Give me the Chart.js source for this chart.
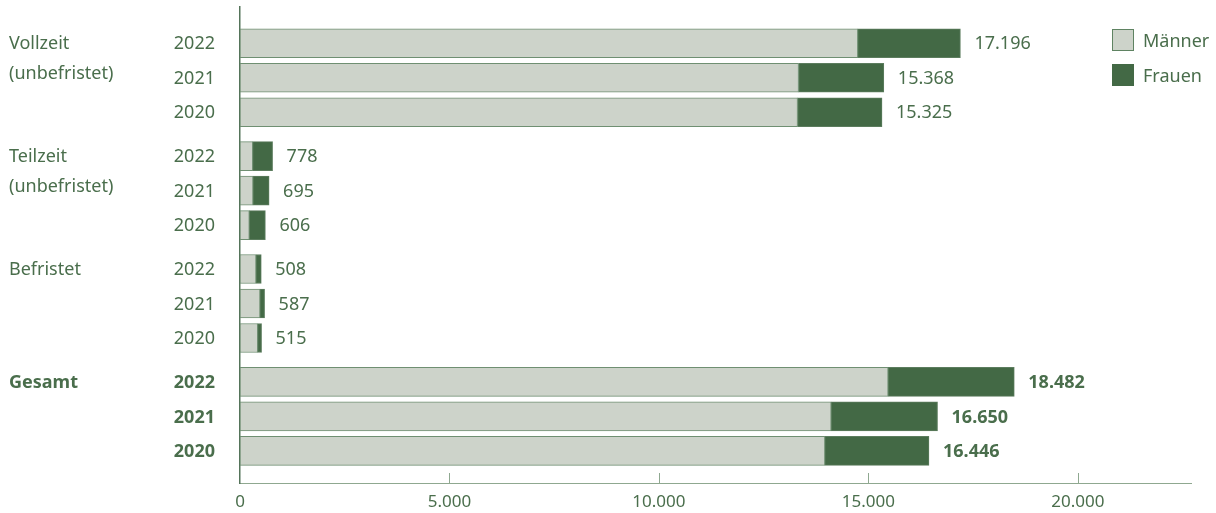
<!DOCTYPE html>
<html>
<head>
<meta charset="utf-8">
<script src="https://cdn.jsdelivr.net/npm/chart.js@4.4.1/dist/chart.umd.min.js"></script>
<style>
  html, body { margin: 0; padding: 0; background: #fff; }
  #wrap { position: relative; width: 1216px; height: 513px; }
  #legend { position: absolute; left: 1112px; top: 29px; font-family: "Noto Sans", sans-serif; font-size: 18px; color: #4a6e4c; }
  #legend div { display: flex; align-items: center; height: 22px; margin-bottom: 13px; }
  #legend span.box { display: inline-block; width: 20px; height: 20px; margin-right: 9px; }
</style>
</head>
<body>
<div id="wrap">
  <canvas id="myChart" width="1216" height="513"></canvas>
  <div id="legend">
    <div><span class="box" style="background:#cdd3ca;border:1px solid #5f8362"></span>Männer</div>
    <div><span class="box" style="background:#436945;border:1px solid #436945"></span>Frauen</div>
  </div>
</div>
<script>
// data
const groups = [['Vollzeit', '(unbefristet)'], ['Teilzeit', '(unbefristet)'], ['Befristet'], ['Gesamt']];
const years = ['2022', '2021', '2020'];
const maenner = [14746, 13332, 13308, 303, 310, 222, 382, 477, 422, 15470, 14110, 13960];
const frauen = [2450, 2036, 2017, 475, 385, 384, 126, 110, 93, 3012, 2540, 2486];
const totals = [17196, 15368, 15325, 778, 695, 606, 508, 587, 515, 18482, 16650, 16446];
const xTicks = [0, 5000, 10000, 15000, 20000];

const green = '#436945';
const grey = '#cdd3ca';
const textCol = '#4a6e4c';
const groupGap = 1.27;

// row positions on the y scale: 3 rows per group, extra gap between groups
const rowPos = [];
const rowYear = [];
const rowGroup = [];
for (g = 0; g < groups.length; g++) {
    for (r = 0; r < years.length; r++) {
        rowPos.push(g * (years.length - 1 + groupGap) + r);
        rowYear.push(years[r]);
        rowGroup.push(g);
    }
}
const lastGroup = groups.length - 1;

const labelsPlugin = {
    id: 'labels',
    afterDraw(chart) {
        const ctx = chart.ctx;
        const ys = chart.scales.y;
        const xs = chart.scales.x;
        const area = chart.chartArea;
        ctx.save();
        ctx.fillStyle = textCol;
        ctx.textBaseline = 'middle';
        // inner tick marks
        ctx.strokeStyle = '#8fa890';
        ctx.lineWidth = 1;
        xTicks.forEach(function (v) {
            if (v === 0) return;
            const px = Math.round(xs.getPixelForValue(v)) + 0.5;
            ctx.beginPath();
            ctx.moveTo(px, area.bottom - 10);
            ctx.lineTo(px, area.bottom);
            ctx.stroke();
        });
        // years + group names
        for (i = 0; i < rowPos.length; i++) {
            const py = ys.getPixelForValue(rowPos[i]);
            const bold = rowGroup[i] === lastGroup;
            ctx.font = (bold ? 'bold ' : '') + '18px "Noto Sans"';
            ctx.textAlign = 'right';
            ctx.fillText(rowYear[i], 215, py + 1);
            if (i % years.length === 0) {
                ctx.textAlign = 'left';
                const lines = groups[rowGroup[i]];
                for (l = 0; l < lines.length; l++) {
                    ctx.fillText(lines[l], 9, py + 1 + l * 30);
                }
            }
        }
        // totals at bar ends
        const meta = chart.getDatasetMeta(1);
        meta.data.forEach(function (el, i) {
            const bold = rowGroup[i] === lastGroup;
            ctx.font = (bold ? 'bold ' : '') + '18px "Noto Sans"';
            ctx.textAlign = 'left';
            ctx.fillText(totals[i].toLocaleString('de-DE'), el.x + 14, el.y + 1);
        });
        ctx.restore();
    }
};

new Chart(document.getElementById('myChart'), {
    type: 'bar',
    data: {
        datasets: [
            {
                label: 'Männer',
                data: maenner.map(function (v, i) { return { x: v, y: rowPos[i] }; }),
                backgroundColor: grey,
                borderColor: '#6f8f72',
                borderWidth: 1,
                borderSkipped: false
            },
            {
                label: 'Frauen',
                data: frauen.map(function (v, i) { return { x: v, y: rowPos[i] }; }),
                backgroundColor: green,
                borderColor: '#5c7d5e',
                borderWidth: 1,
                borderSkipped: false
            }
        ]
    },
    options: {
        indexAxis: 'y',
        responsive: false,
        animation: false,
        barThickness: 29,
        layout: { padding: { left: 240, right: 25, top: 7, bottom: 0 } },
        plugins: {
            legend: { display: false },
            tooltip: { enabled: false }
        },
        scales: {
            x: {
                type: 'linear',
                stacked: true,
                min: 0,
                max: 22700,
                afterBuildTicks: function (s) { s.ticks = xTicks.map(function (v) { return { value: v }; }); },
                afterFit: function (s) { s.height = 30; },
                grid: { display: false, drawTicks: false },
                border: { display: true, color: '#8fa890', width: 1 },
                ticks: {
                    padding: 9,
                    color: textCol,
                    font: { family: 'Noto Sans', size: 17 },
                    maxRotation: 0,
                    callback: function (v) { return Number(v).toLocaleString('de-DE'); }
                }
            },
            y: {
                type: 'linear',
                stacked: true,
                reverse: true,
                offset: false,
                min: -1.05,
                max: 12.74,
                afterFit: function (s) { s.width = 0; },
                grid: { display: false, drawTicks: false, offset: false },
                border: { display: true, color: '#55745a', width: 1.5 },
                ticks: { display: false }
            }
        }
    },
    plugins: [labelsPlugin]
});
</script>
</body>
</html>
